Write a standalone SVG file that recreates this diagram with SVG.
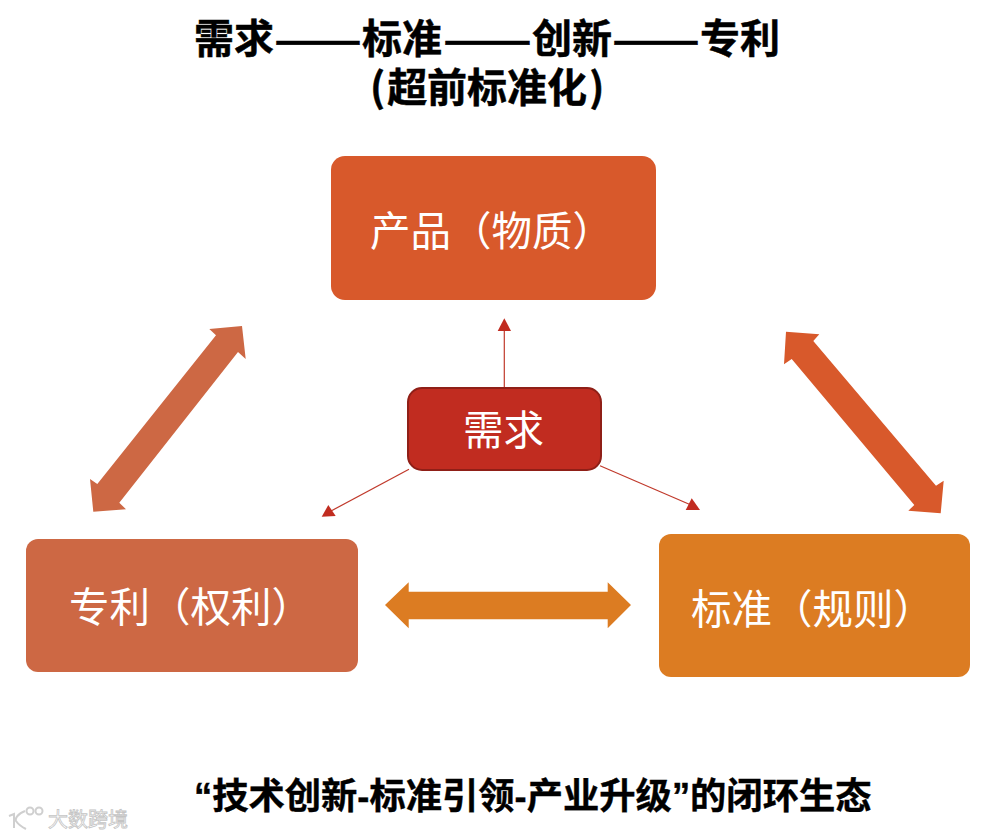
<svg xmlns="http://www.w3.org/2000/svg" width="990" height="838" viewBox="0 0 990 838">
<style>
text{font-family:"Noto Sans CJK SC","Liberation Sans",sans-serif}
.t{font-size:40px;font-weight:700;fill:#000;stroke:#000;stroke-width:.5px}
.n{font-size:40.5px;fill:#fff}
.b{font-size:36.3px;font-weight:700;fill:#000;stroke:#000;stroke-width:.4px;font-family:"Liberation Sans","Noto Sans CJK SC",sans-serif}
.thin{stroke:#c0392b;stroke-width:1.2;fill:none}
.h{fill:#c12c20}
.wm{font-size:20px;fill:#fff;stroke:#c4c4c4;stroke-width:.8px}
.lg{fill:none;stroke:#cfcfcf;stroke-width:2}
</style>
<rect width="990" height="838" fill="#fff"/>
<text class="t" x="194" y="53">需求<tspan x="274" y="54" textLength="88" lengthAdjust="spacingAndGlyphs">——</tspan><tspan x="362" y="53">标准</tspan><tspan x="443" y="54" textLength="89" lengthAdjust="spacingAndGlyphs">——</tspan><tspan x="532" y="53">创新</tspan><tspan x="612" y="54" textLength="88" lengthAdjust="spacingAndGlyphs">——</tspan><tspan x="700" y="53">专利</tspan></text>
<text class="t" x="370" y="102">(<tspan dx="2">超前标准化</tspan><tspan dx="2">)</tspan></text>
<g id="connectors">
<polygon points="242,326 245.7,359 238,352 119.3,502.7 126,509.3 93.3,511.7 90,479 97.3,484 216,335.3 209.3,329" fill="#cd6844"/>
<polygon points="786,331.7 819.3,334.3 813.3,341 936,485.7 943.7,480.7 940.7,513.3 908.3,510.7 914.3,505 791.7,359 784,364.3" fill="#d8592b"/>
<polygon points="385,605 408.7,582.3 408.7,591.7 607.7,591.7 607.7,582.3 631,605 607.7,628.3 607.7,619.3 408.7,619.3 408.7,628.3" fill="#dc7c22"/>
<line class="thin" x1="504.3" y1="388" x2="504.3" y2="330"/>
<polygon class="h" points="504.3,318.3 511,331 497.7,331"/>
<line class="thin" x1="409" y1="469.3" x2="331" y2="511"/>
<polygon class="h" points="328.3,505 335.7,516 321.7,516.7"/>
<line class="thin" x1="600" y1="465.7" x2="691" y2="505"/>
<polygon class="h" points="691.7,498.3 700,510 685.7,510"/>
</g>
<g id="node-product"><rect x="331" y="156" width="325" height="144" rx="14" fill="#d8592b"/><text class="n" x="370" y="246">产品（物质）</text></g>
<g id="node-demand"><rect x="408" y="388" width="193" height="82" rx="14" fill="#c12c20" stroke="#8f1f17" stroke-width="2"/><text class="n" x="463" y="445">需求</text></g>
<g id="node-patent"><rect x="26" y="539" width="332" height="133" rx="12" fill="#cd6844"/><text class="n" x="69" y="622">专利（权利）</text></g>
<g id="node-standard"><rect x="659" y="534" width="311" height="143" rx="12" fill="#dc7c22"/><text class="n" x="691" y="624">标准（规则）</text></g>
<text class="b" x="194" y="809">“技术创新-标准引领-产业升级”的闭环生态</text>
<g id="watermark">
<path class="lg" d="M9 816l5-2v14M25 811c-8 3-10 8-9 10 2 3 6 6 10 8"/>
<circle class="lg" cx="30" cy="811" r="3.5"/><circle class="lg" cx="39" cy="811" r="3.5"/>
<text class="wm" x="48" y="827">大数跨境</text>
</g>
</svg>
